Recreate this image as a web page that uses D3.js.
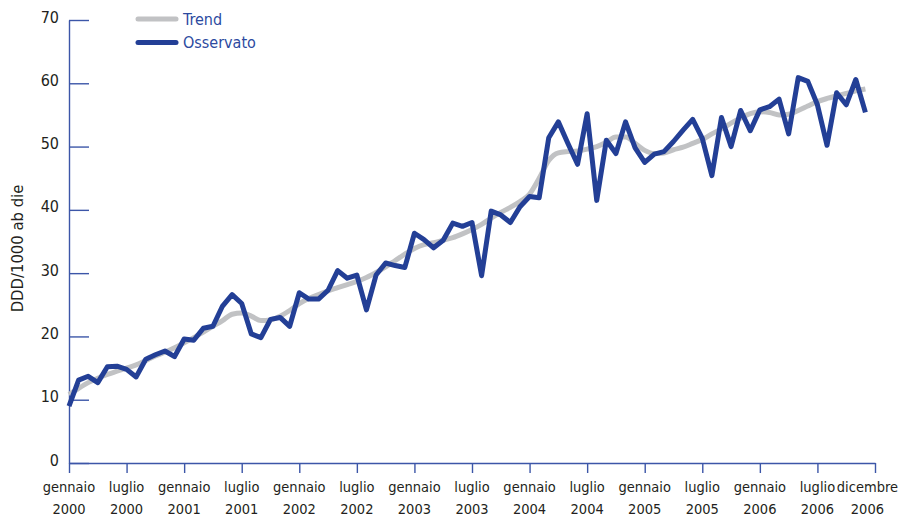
<!DOCTYPE html>
<html>
<head>
<meta charset="utf-8">
<script src="https://cdn.jsdelivr.net/npm/d3@7"></script>
<style>
  html, body { margin: 0; padding: 0; background: #fff; }
  svg { display: block; }
  text { font-family: "DejaVu Sans Condensed", "DejaVu Sans", sans-serif; font-stretch: condensed; }
</style>
</head>
<body>
<div id="chart"></div>
<script>
// Monthly observations, January 2000 .. December 2006
const observed = [
  9.0, 13.1, 13.7, 12.7, 15.2, 15.3, 14.8, 13.6, 16.4, 17.1, 17.7, 16.8,
  19.6, 19.4, 21.3, 21.6, 24.8, 26.6, 25.2, 20.4, 19.8, 22.7, 23.0, 21.6,
  26.9, 25.9, 25.9, 27.3, 30.4, 29.2, 29.7, 24.2, 29.7, 31.6, 31.2, 30.9,
  36.3, 35.3, 34.0, 35.2, 37.9, 37.4, 38.0, 29.6, 39.8, 39.2, 38.0, 40.5,
  42.1, 41.9, 51.4, 53.9, 50.5, 47.2, 55.2, 41.5, 51.0, 48.9, 53.9, 49.8,
  47.5, 48.8, 49.2, 50.8, 52.6, 54.3, 51.3, 45.4, 54.6, 50.0, 55.7, 52.5,
  55.8, 56.3, 57.5, 52.0, 60.9, 60.3, 56.6, 50.2, 58.5, 56.6, 60.6, 55.4
];
const trend = [
  10.8, 11.8, 12.7, 13.4, 14.0, 14.5, 15.0, 15.5, 16.2, 16.9, 17.5, 18.2,
  19.0, 19.8, 20.7, 21.6, 22.5, 23.5, 23.7, 23.2, 22.5, 22.6, 23.2, 24.1,
  25.2, 26.0, 26.6, 27.2, 27.7, 28.2, 28.7, 29.3, 30.1, 31.0, 32.0, 33.0,
  33.9, 34.5, 34.8, 35.2, 35.6, 36.2, 36.9, 37.7, 38.7, 39.6, 40.4, 41.3,
  42.5, 45.0, 47.8, 49.0, 49.2, 49.3, 49.6, 50.0, 50.7, 51.5, 51.5, 50.5,
  49.4, 48.9, 49.0, 49.5, 49.9, 50.5, 51.1, 52.0, 52.8, 53.7, 54.5, 55.2,
  55.5, 55.4, 55.0, 55.1, 55.7, 56.4, 57.1, 57.6, 58.0, 58.4, 58.8, 59.1
];
// x tick positions in months since January 2000, with their two-line labels
const xTickMonths = [0, 6, 12, 18, 24, 30, 36, 42, 48, 54, 60, 66, 72, 78, 84];
const xTickLine1 = ["gennaio", "luglio", "gennaio", "luglio", "gennaio", "luglio", "gennaio", "luglio",
                    "gennaio", "luglio", "gennaio", "luglio", "gennaio", "luglio", "dicembre"];
const xTickLine2 = ["2000", "2000", "2001", "2001", "2002", "2002", "2003", "2003",
                    "2004", "2004", "2005", "2005", "2006", "2006", "2006"];
const yTicks = [0, 10, 20, 30, 40, 50, 60, 70];
const seriesNames = ["Trend", "Osservato"];
const yTitle = "DDD/1000 ab die";

const W = 901, H = 518;
const margin = { left: 69, top: 20, right: 26, bottom: 55 };
const axisColor = "#3c56a8";
const trendColor = "#c1c2c4";
const obsColor = "#233f96";
const textColor = "#231f20";

const svg = d3.select("#chart").append("svg").attr("width", W).attr("height", H);

const x = d3.scaleLinear().domain([0, 84]).range([margin.left, W - margin.right]);
const y = d3.scaleLinear().domain([0, 70]).range([H - margin.bottom, margin.top]);

// y axis (ticks inward)
const yAxis = svg.append("g").attr("transform", `translate(${margin.left},0)`)
  .call(d3.axisRight(y).tickValues(yTicks).tickSize(20).tickSizeOuter(0).tickFormat(""));
yAxis.select(".domain").attr("stroke", axisColor).attr("stroke-width", 1.4);
yAxis.selectAll(".tick line").attr("stroke", axisColor).attr("stroke-width", 1.4);

svg.append("g").selectAll("text").data(yTicks).join("text")
  .attr("x", margin.left - 10)
  .attr("y", d => y(d) - 3)
  .attr("dy", "0.35em")
  .attr("text-anchor", "end")
  .attr("fill", textColor)
  .style("font-size", "16px")
  .text(d => d);

// x axis
const xAxis = svg.append("g").attr("transform", `translate(0,${y(0)})`)
  .call(d3.axisBottom(x).tickValues(xTickMonths).tickSize(10).tickSizeOuter(0).tickFormat(""));
xAxis.select(".domain").attr("stroke", axisColor).attr("stroke-width", 1.4);
xAxis.selectAll(".tick line").attr("stroke", axisColor).attr("stroke-width", 1.4);

const xl = svg.append("g").selectAll("text").data(xTickMonths).join("text")
  .attr("text-anchor", "middle")
  .attr("fill", textColor)
  .style("font-size", "14.5px");
xl.append("tspan").attr("x", d => x(d)).attr("y", y(0) + 29).text((d, i) => xTickLine1[i]);
xl.append("tspan").attr("x", d => x(d)).attr("y", y(0) + 51).text((d, i) => xTickLine2[i]);
// keep the last (wide) label inside the picture
xl.each(function() {
  const bb = this.getBBox();
  const over = bb.x + bb.width - (W - 3);
  if (over > 0) d3.select(this).attr("transform", `translate(${-over},0)`);
});

// y title
svg.append("text")
  .attr("transform", `translate(23,${(y(0) + y(70)) / 2 + 7}) rotate(-90)`)
  .attr("text-anchor", "middle")
  .attr("fill", textColor)
  .style("font-size", "16.5px")
  .text(yTitle);

// lines
svg.append("path").datum(trend)
  .attr("fill", "none").attr("stroke", trendColor).attr("stroke-width", 5)
  .attr("stroke-linejoin", "round").attr("stroke-linecap", "butt")
  .attr("d", d3.line().x((d, i) => x(i)).y(d => y(d)).curve(d3.curveMonotoneX));
svg.append("path").datum(observed)
  .attr("fill", "none").attr("stroke", obsColor).attr("stroke-width", 5)
  .attr("stroke-linejoin", "round").attr("stroke-linecap", "butt")
  .attr("d", d3.line().x((d, i) => x(i)).y(d => y(d)));

// legend
const legColors = [trendColor, obsColor];
const leg = svg.append("g").selectAll("g").data(seriesNames).join("g")
  .attr("transform", (d, i) => `translate(138,${19 + i * 23.5})`);
leg.append("line").attr("x1", 0).attr("x2", 38).attr("y1", 0).attr("y2", 0)
  .attr("stroke", (d, i) => legColors[i]).attr("stroke-width", 5).attr("stroke-linecap", "round");
leg.append("text").attr("x", 45).attr("y", 0).attr("dy", "0.35em")
  .attr("fill", "#2c4a9f").style("font-size", "16px").text(d => d);
</script>
</body>
</html>
